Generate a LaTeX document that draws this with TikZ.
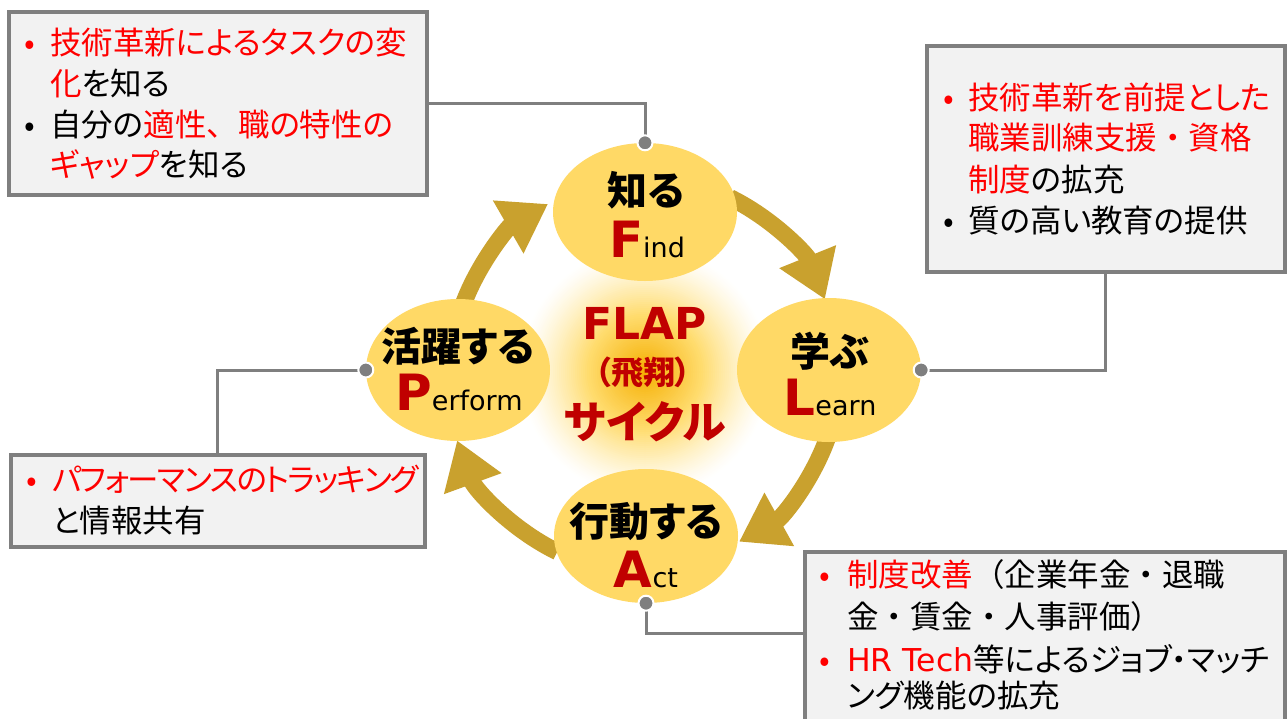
\documentclass[tikz,border=0pt]{standalone}
\usepackage{fontspec}
\newfontfamily\jp{Noto Sans CJK JP}[RawFeature=+palt]
\newfontfamily\jpf{Noto Sans CJK JP}
\newfontfamily\jpn{Noto Sans CJK JP}[RawFeature=+palt, LetterSpace=-5]
\newfontfamily\lat{DejaVu Sans}
\usetikzlibrary{shapes.geometric,arrows.meta}
\definecolor{ellfill}{HTML}{FFD966}
\definecolor{arrowc}{HTML}{C9A12E}
\definecolor{darkred}{HTML}{C00000}
\definecolor{boxfill}{HTML}{F2F2F2}
\definecolor{boxline}{HTML}{7F7F7F}
\definecolor{glowc}{HTML}{F5AE00}
\definecolor{glowmid}{HTML}{FFDC6E}
\definecolor{txtred}{HTML}{FF0000}
\newcommand\bigL[2]{{\lat\bfseries\fontsize{50}{50}\selectfont\color{darkred}#1}{\lat\fontsize{27}{27}\selectfont #2}}
\newcommand\fw[1]{{\jpf #1}}
\tikzset{
  x=1pt,y=1pt,
  ell/.style={ellipse, fill=ellfill, draw=none, minimum width=184pt, inner sep=0pt},
  cyc/.style={draw=arrowc, line width=17pt, -{Triangle[length=46pt,width=58pt]}},
  hd/.style={inner sep=0pt, font=\jp\bfseries\fontsize{40}{40}\selectfont},
  lt/.style={inner sep=0pt, anchor=base},
  conn/.style={draw=boxline, line width=3pt},
  dot/.style={circle, fill=boxline, draw=white, line width=2pt, minimum size=15pt, inner sep=0pt},
  box/.style={rectangle, fill=boxfill, draw=boxline, line width=3.5pt, inner sep=0pt, anchor=north west},
  bt/.style={anchor=base west, inner sep=0pt, font=\jp\fontsize{31.5}{38}\selectfont},
  bul/.style={anchor=base, inner sep=0pt, font=\jp\fontsize{31.5}{38}\selectfont},
}
\begin{document}
\begin{tikzpicture}
\fill[white] (0,0) rectangle (1287,-718);
\useasboundingbox (0,0) rectangle (1287,-718);
\coordinate (cc) at (645,-372);
% glow
\foreach \r in {126,124,...,58} {
  \pgfmathsetmacro\p{100*((126-\r)/68)^1.3}
  \fill[glowmid!\p!white] (cc) circle[radius=\r pt];
}
\foreach \r in {58,56,...,2} {
  \pgfmathsetmacro\p{100*(58-\r)/58}
  \fill[glowc!\p!glowmid] (cc) circle[radius=\r pt];
}
% cycle arrows
\draw[cyc] ([shift={(64:194pt)}]cc) arc[start angle=64, end angle=22, radius=194pt];
\draw[cyc] ([shift={(-18:194pt)}]cc) arc[start angle=-18, end angle=-61, radius=194pt];
\draw[cyc] ([shift={(244:200pt)}]cc) arc[start angle=244, end angle=200, radius=200pt];
\draw[cyc] ([shift={(160:194pt)}]cc) arc[start angle=160, end angle=120, radius=194pt];
% ellipses
\node[ell, minimum height=138pt] (find) at (645,-212) {};
\node[ell, minimum height=144pt] (learn) at (829,-370) {};
\node[ell, minimum height=142pt] (perform) at (458,-370) {};
\node[ell, minimum height=134pt] (act) at (646,-536) {};
% ellipse labels
\node[hd] (findj) at (646,-190) {知る};
\node[lt] (findl) at (647,-257) {\bigL{F}{ind}};
\node[hd] (learnj) at (830,-351) {学ぶ};
\node[lt] (learnl) at (830,-415) {\bigL{L}{earn}};
\node[hd] (perfj) at (458,-346) {活躍する};
\node[lt] (perfl) at (459,-410) {\bigL{P}{erform}};
\node[hd] (actj) at (646,-521) {行動する};
\node[lt] (actl) at (646,-587) {\bigL{A}{ct}};
% centre
\node[inner sep=0pt, text=darkred, font=\lat\bfseries\fontsize{44}{44}\selectfont] (flap) at (645,-323) {FLAP};
\node[inner sep=0pt, text=darkred, font=\jp\bfseries\fontsize{32}{32}\selectfont] (hisho) at (643,-372) {（飛翔）};
\node[inner sep=0pt, text=darkred, font=\jp\bfseries\fontsize{44}{44}\selectfont] (cycle) at (645,-422) {サイクル};
% boxes
\node[box, minimum width=418pt, minimum height=183pt] (box1) at (7,-10) {};
\node[box, minimum width=358pt, minimum height=226pt] (box2) at (925,-44) {};
\node[box, minimum width=414pt, minimum height=92pt] (box3) at (9,-453) {};
\node[box, minimum width=480pt, minimum height=190pt] (box4) at (803,-550) {};
\coordinate (b4c) at (803,-633);
% connectors
\draw[conn] (box1.east) -| (find.north);
\draw[conn] (box2.south) |- (learn.east);
\draw[conn] (box3.north) |- (perform.west);
\draw[conn] (act.south) |- (b4c);
\node[dot] (d1) at (find.north) {};
\node[dot] (d2) at (learn.east) {};
\node[dot] (d3) at (perform.west) {};
\node[dot] (d4) at (act.south) {};
% box 1 text
\node[bul, text=txtred] (b1p1) at (30,-54) {•};
\node[bt] (b1l1) at (50,-54) {\textcolor{txtred}{技術革新によるタスクの変}};
\node[bt] (b1l2) at (50,-95) {\textcolor{txtred}{化}を知る};
\node[bul] (b1p2) at (30,-136) {•};
\node[bt] (b1l3) at (50,-136) {自分の\textcolor{txtred}{適性\fw{、}職の特性の}};
\node[bt] (b1l4) at (50,-176) {\textcolor{txtred}{ギャップ}を知る};
% box 2 text
\node[bul, text=txtred] (b2p1) at (949,-109) {•};
\node[bt] (b2l1) at (968,-109) {\textcolor{txtred}{技術革新を前提とした}};
\node[bt] (b2l2) at (968,-149) {\textcolor{txtred}{職業訓練支援\fw{・}資格}};
\node[bt] (b2l3) at (968,-191) {\textcolor{txtred}{制度}の拡充};
\node[bul] (b2p2) at (949,-232) {•};
\node[bt] (b2l4) at (968,-232) {質の高い教育の提供};
% box 3 text
\node[bul, text=txtred] (b3p1) at (32,-491) {•};
\node[bt, font=\jpn\fontsize{31.5}{38}\selectfont] (b3l1) at (52,-491) {\textcolor{txtred}{パフォーマンスのトラッキング}};
\node[bt] (b3l2) at (52,-532) {と情報共有};
% box 4 text
\node[bul, text=txtred] (b4p1) at (825,-586) {•};
\node[bt] (b4l1) at (847,-586) {\textcolor{txtred}{制度改善}\fw{（}企業年金\fw{・}退職};
\node[bt] (b4l2) at (847,-628) {金\fw{・}賃金\fw{・}人事評価\fw{）}};
\node[bul, text=txtred] (b4p2) at (825,-671) {•};
\node[bt] (b4l3) at (847,-671) {\textcolor{txtred}{\lat HR Tech}等によるジョブ・マッチ};
\node[bt] (b4l4) at (847,-707) {ング機能の拡充};
\end{tikzpicture}
\end{document}
